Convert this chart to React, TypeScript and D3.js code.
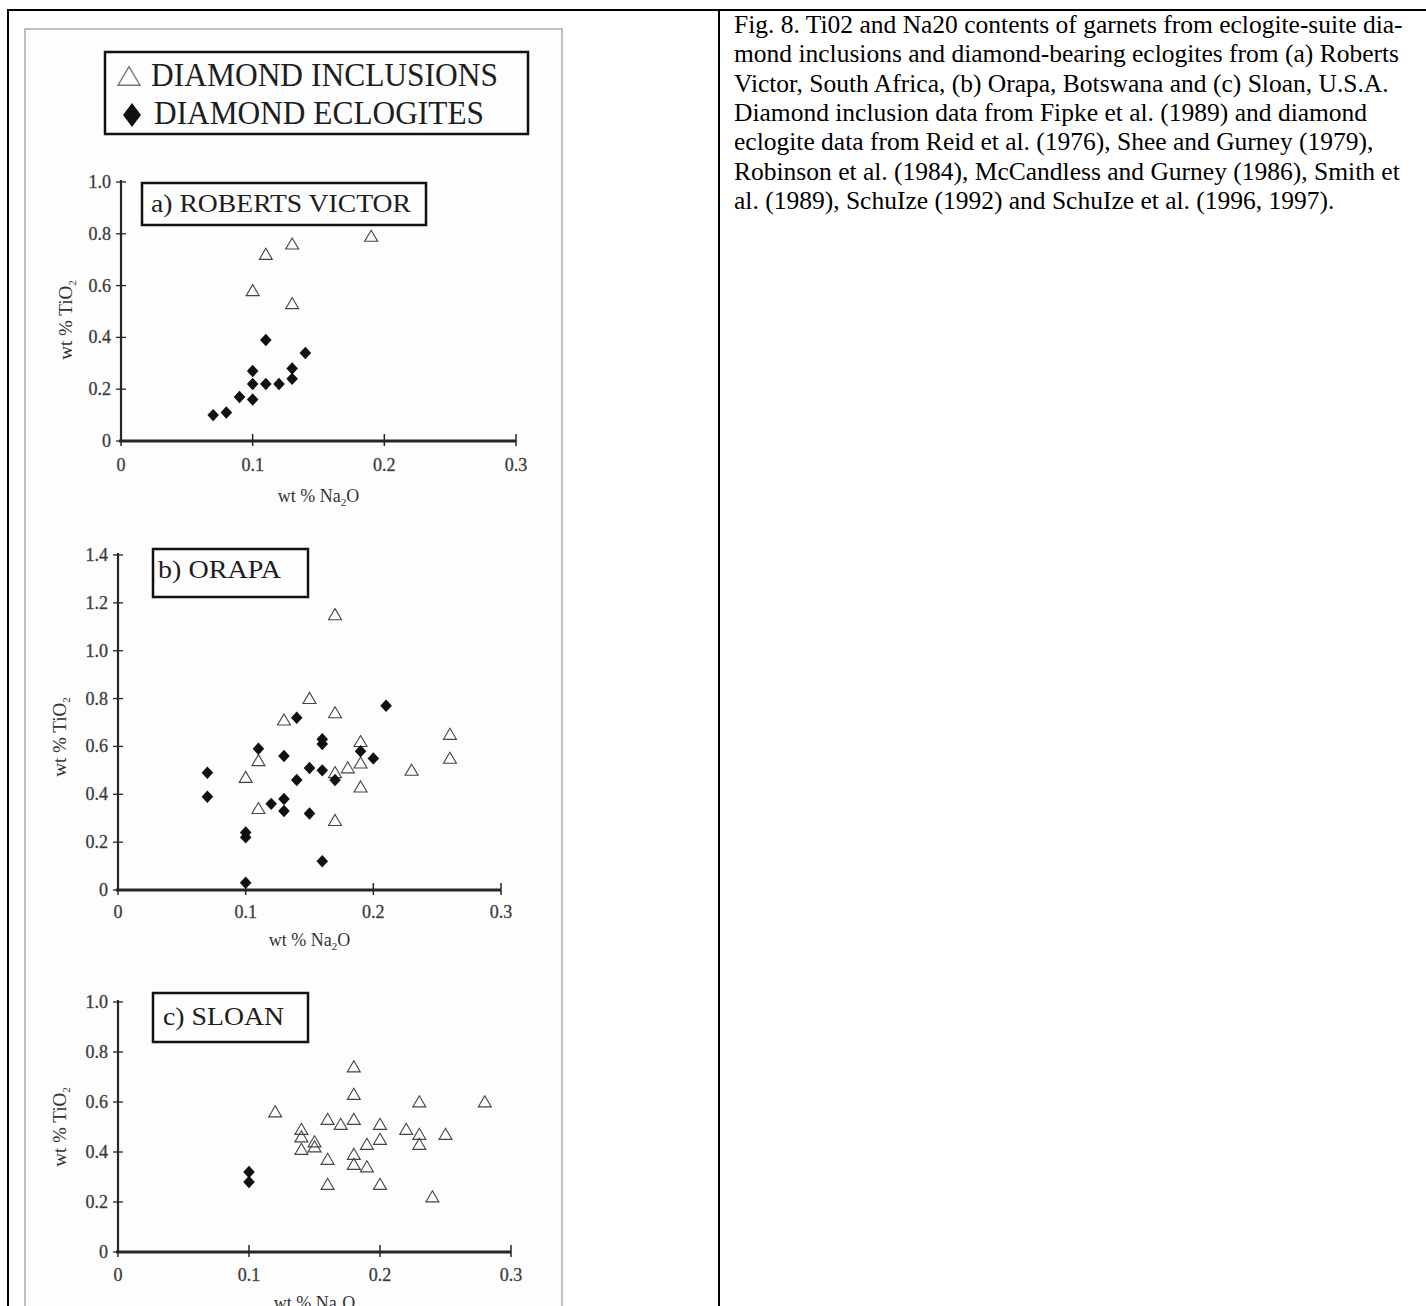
import React, { useRef, useEffect } from "react";
import * as d3 from "d3";

// wt % Na2O, wt % TiO2
const robertsInclusions = [
    [0.11, 0.72], [0.13, 0.76], [0.19, 0.79], [0.10, 0.58], [0.13, 0.53],
];
const robertsEclogites = [
    [0.07, 0.10], [0.08, 0.11], [0.09, 0.17], [0.10, 0.16], [0.10, 0.22], [0.10, 0.27],
    [0.11, 0.39], [0.11, 0.22], [0.12, 0.22], [0.13, 0.24], [0.13, 0.28], [0.14, 0.34],
];
const orapaInclusions = [
    [0.17, 1.15], [0.15, 0.80], [0.13, 0.71], [0.17, 0.74], [0.19, 0.62], [0.26, 0.65],
    [0.26, 0.55], [0.11, 0.54], [0.10, 0.47], [0.11, 0.34], [0.17, 0.29], [0.17, 0.49],
    [0.18, 0.51], [0.19, 0.53], [0.19, 0.43], [0.23, 0.50],
];
const orapaEclogites = [
    [0.07, 0.49], [0.07, 0.39], [0.10, 0.24], [0.10, 0.22], [0.10, 0.03], [0.11, 0.59],
    [0.12, 0.36], [0.13, 0.56], [0.13, 0.38], [0.13, 0.33], [0.14, 0.72], [0.14, 0.46],
    [0.15, 0.51], [0.15, 0.32], [0.16, 0.63], [0.16, 0.61], [0.16, 0.50], [0.16, 0.12],
    [0.17, 0.46], [0.19, 0.58], [0.20, 0.55], [0.21, 0.77],
];
const sloanInclusions = [
    [0.18, 0.74], [0.18, 0.63], [0.23, 0.60], [0.28, 0.60], [0.12, 0.56], [0.14, 0.49],
    [0.14, 0.46], [0.14, 0.41], [0.15, 0.44], [0.15, 0.42], [0.16, 0.53], [0.17, 0.51],
    [0.18, 0.53], [0.20, 0.51], [0.20, 0.45], [0.22, 0.49], [0.23, 0.47], [0.23, 0.43],
    [0.25, 0.47], [0.19, 0.43], [0.16, 0.37], [0.18, 0.39], [0.18, 0.35], [0.19, 0.34],
    [0.16, 0.27], [0.20, 0.27], [0.24, 0.22],
];
const sloanEclogites = [
    [0.10, 0.32], [0.10, 0.28],
];

const xTickValues = [0, 0.1, 0.2, 0.3];
const yTicksOne = [0, 0.2, 0.4, 0.6, 0.8, 1.0];
const yTicksOrapa = [0, 0.2, 0.4, 0.6, 0.8, 1.0, 1.2, 1.4];

const legendLabels = ["DIAMOND INCLUSIONS", "DIAMOND ECLOGITES"];

const captionLines = [
    "Fig. 8. Ti02 and Na20 contents of garnets from eclogite-suite dia-",
    "mond inclusions and diamond-bearing eclogites from (a) Roberts",
    "Victor, South Africa, (b) Orapa, Botswana and (c) Sloan, U.S.A.",
    "Diamond inclusion data from Fipke et al. (1989) and diamond",
    "eclogite data from Reid et al. (1976), Shee and Gurney (1979),",
    "Robinson et al. (1984), McCandless and Gurney (1986), Smith et",
    "al. (1989), SchuIze (1992) and SchuIze et al. (1996, 1997).",
];

const panels = [
    {
        title: "a)  ROBERTS VICTOR", incl: robertsInclusions, ecl: robertsEclogites,
        yMax: 1.0, yTicks: yTicksOne, xr: [121, 516], yr: [441, 182],
        box: [142, 183, 284, 42], tt: [151, 212, 260], yTitle: [66, 320], tickDy: 30, titleDy: 61,
    },
    {
        title: "b)  ORAPA", incl: orapaInclusions, ecl: orapaEclogites,
        yMax: 1.4, yTicks: yTicksOrapa, xr: [118, 501], yr: [890, 555],
        box: [153, 549, 155, 48], tt: [158, 578, 123], yTitle: [60, 737], tickDy: 28, titleDy: 56,
    },
    {
        title: "c)  SLOAN", incl: sloanInclusions, ecl: sloanEclogites,
        yMax: 1.0, yTicks: yTicksOne, xr: [118, 511], yr: [1252, 1002],
        box: [153, 993, 155, 49], tt: [163, 1025, 121], yTitle: [60, 1127], tickDy: 29, titleDy: 57,
    },
];

const serif = "'Liberation Serif', 'Times New Roman', serif";
const ink = "#262626";

const trianglePath = (s: number) => `M0,${-s * 0.95}L${s},${s * 0.75}L${-s},${s * 0.75}Z`;
const diamondPath = (w: number, h: number) => `M0,${-h}L${w},0L0,${h}L${-w},0Z`;

const App = () => {
    const svgRef = useRef(null);

    useEffect(() => {
        const svg = d3.select(svgRef.current);
        svg.selectAll("*").remove();

        // table borders
        svg.append("line").attr("x1", 7).attr("x2", 1426).attr("y1", 10).attr("y2", 10)
            .attr("stroke", "#000").attr("stroke-width", 2);
        svg.append("line").attr("x1", 8).attr("x2", 8).attr("y1", 9).attr("y2", 1306)
            .attr("stroke", "#000").attr("stroke-width", 2);
        svg.append("line").attr("x1", 719).attr("x2", 719).attr("y1", 10).attr("y2", 1306)
            .attr("stroke", "#000").attr("stroke-width", 2);

        // scanned figure frame
        svg.append("rect").attr("x", 25).attr("y", 29).attr("width", 537).attr("height", 1300)
            .attr("fill", "#fdfdfd").attr("stroke", "#a8adb2").attr("stroke-width", 1.5);

        // legend
        const lg = svg.append("g");
        lg.append("rect").attr("x", 105).attr("y", 52).attr("width", 423).attr("height", 82)
            .attr("fill", "none").attr("stroke", "#111").attr("stroke-width", 2.5);
        lg.append("path").attr("d", trianglePath(11)).attr("transform", "translate(129,77)")
            .attr("fill", "none").attr("stroke", "#777").attr("stroke-width", 1.4);
        lg.append("path").attr("d", diamondPath(9, 12)).attr("transform", "translate(132,115)")
            .attr("fill", "#111");
        lg.append("text").attr("x", 151).attr("y", 86).attr("textLength", 347)
            .attr("lengthAdjust", "spacingAndGlyphs").attr("font-size", 33)
            .attr("font-family", serif).attr("fill", "#1e1e1e").text(legendLabels[0]);
        lg.append("text").attr("x", 154).attr("y", 124).attr("textLength", 330)
            .attr("lengthAdjust", "spacingAndGlyphs").attr("font-size", 33)
            .attr("font-family", serif).attr("fill", "#1e1e1e").text(legendLabels[1]);

        panels.forEach((p) => {
            const x = d3.scaleLinear().domain([0, 0.3]).range(p.xr);
            const y = d3.scaleLinear().domain([0, p.yMax]).range(p.yr);
            const g = svg.append("g");
            const fmt = (d: number) => (d === 0 ? "0" : d3.format(".1f")(d));

            // y axis
            g.append("line").attr("x1", x(0)).attr("x2", x(0)).attr("y1", y(0)).attr("y2", y(p.yMax) - 2)
                .attr("stroke", ink).attr("stroke-width", 2.2);
            g.selectAll(".yt").data(p.yTicks).enter().append("line")
                .attr("x1", x(0) - 5).attr("x2", x(0) + 5)
                .attr("y1", (d: number) => y(d)).attr("y2", (d: number) => y(d))
                .attr("stroke", ink).attr("stroke-width", 1.3);
            g.selectAll(".yl").data(p.yTicks).enter().append("text")
                .attr("x", x(0) - 10).attr("y", (d: number) => y(d) + 6)
                .attr("text-anchor", "end").attr("font-size", 18).attr("font-family", serif)
                .attr("fill", "#333").attr("stroke", "#555").attr("stroke-width", 0.35)
                .text(fmt);

            // x axis
            g.append("line").attr("x1", x(0) - 2).attr("x2", x(0.3)).attr("y1", y(0)).attr("y2", y(0))
                .attr("stroke", ink).attr("stroke-width", 3);
            g.selectAll(".xt").data(xTickValues).enter().append("line")
                .attr("x1", (d: number) => x(d)).attr("x2", (d: number) => x(d))
                .attr("y1", (d: number) => y(0) - (d === 0 ? 0 : 7)).attr("y2", y(0) + 5)
                .attr("stroke", ink).attr("stroke-width", 1.5);
            g.selectAll(".xl").data(xTickValues).enter().append("text")
                .attr("x", (d: number) => x(d)).attr("y", y(0) + p.tickDy)
                .attr("text-anchor", "middle").attr("font-size", 18).attr("font-family", serif)
                .attr("fill", "#333").attr("stroke", "#555").attr("stroke-width", 0.35)
                .text(fmt);

            // axis titles
            const xt = g.append("text").attr("x", (p.xr[0] + p.xr[1]) / 2).attr("y", y(0) + p.titleDy)
                .attr("text-anchor", "middle").attr("font-size", 18).attr("font-family", serif).attr("fill", "#333");
            xt.append("tspan").text("wt % Na");
            xt.append("tspan").attr("font-size", 11).attr("dy", 4).text("2");
            xt.append("tspan").attr("dy", -4).text("O");

            const yt = g.append("text")
                .attr("transform", `translate(${p.yTitle[0]},${p.yTitle[1]}) rotate(-90)`)
                .attr("text-anchor", "middle").attr("dy", 6).attr("font-size", 19)
                .attr("font-family", serif).attr("fill", "#333");
            yt.append("tspan").text("wt % TiO");
            yt.append("tspan").attr("font-size", 11).attr("dy", 4).text("2");

            // panel label box
            g.append("rect").attr("x", p.box[0]).attr("y", p.box[1]).attr("width", p.box[2]).attr("height", p.box[3])
                .attr("fill", "#fdfdfd").attr("stroke", "#111").attr("stroke-width", 2.5);
            g.append("text").attr("x", p.tt[0]).attr("y", p.tt[1]).attr("textLength", p.tt[2])
                .attr("lengthAdjust", "spacingAndGlyphs").attr("font-size", 26)
                .attr("font-family", serif).attr("fill", "#1e1e1e").text(p.title);

            // points: inclusions first, eclogites on top
            g.selectAll(".tri").data(p.incl).enter().append("path")
                .attr("d", trianglePath(6.5))
                .attr("transform", (d: number[]) => `translate(${x(d[0])},${y(d[1])})`)
                .attr("fill", "none").attr("stroke", "#444").attr("stroke-width", 1.1);
            g.selectAll(".dia").data(p.ecl).enter().append("path")
                .attr("d", diamondPath(5.8, 6.2))
                .attr("transform", (d: number[]) => `translate(${x(d[0])},${y(d[1])})`)
                .attr("fill", "#111");
        });

        // caption
        const cap = svg.append("g");
        cap.selectAll("text").data(captionLines).enter().append("text")
            .attr("x", 734).attr("y", (_: string, i: number) => 33 + i * 29.3)
            .attr("font-size", 25.5).attr("font-family", serif).attr("fill", "#000")
            .text((d: string) => d);
    }, []);

    return (
        <div style={{ position: "absolute", left: 0, top: 0 }}>
            <svg ref={svgRef} width={1426} height={1306} style={{ display: "block", background: "#fff" }}></svg>
        </div>
    );
};

export default App;
